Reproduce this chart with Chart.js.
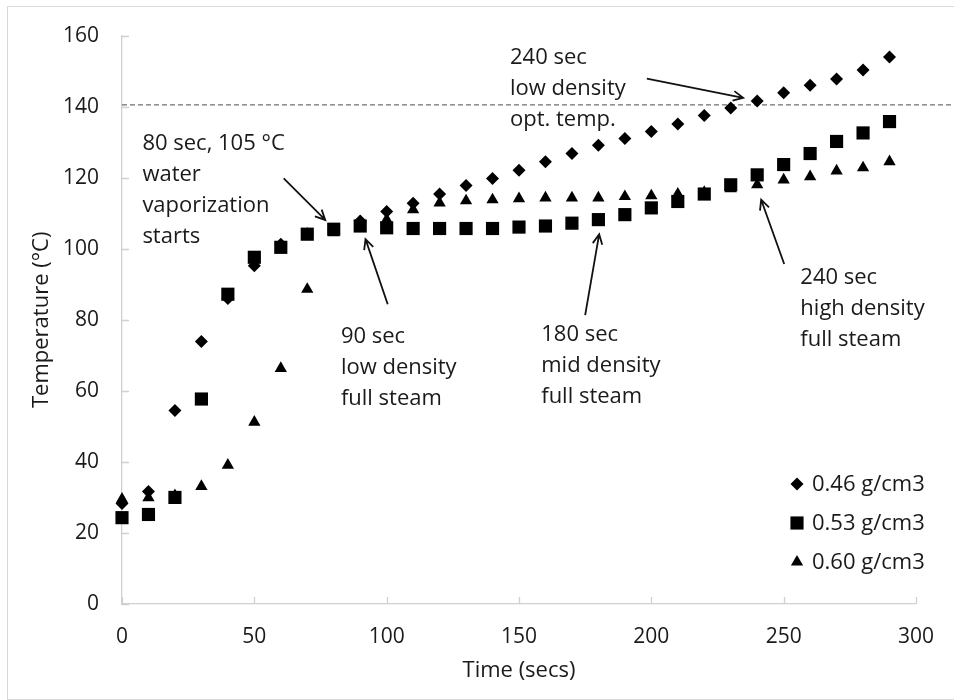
<!DOCTYPE html>
<html>
<head>
<meta charset="utf-8">
<script src="https://cdn.jsdelivr.net/npm/chart.js@4.4.1/dist/chart.umd.min.js"></script>
<style>
  html, body { margin: 0; padding: 0; background: #fff; }
  #frame { position: absolute; left: 7px; top: 6px; width: 960px; height: 692px; border: 1px solid #d9d9d9; }
  #grafico { position: absolute; left: 0; top: 0; }
</style>
</head>
<body>
<div id="frame"></div>
<canvas id="grafico" width="954" height="700"></canvas>
<script>
// time axis (secs)
const tempos = [0, 10, 20, 30, 40, 50, 60, 70, 80, 90, 100, 110, 120, 130, 140,
                150, 160, 170, 180, 190, 200, 210, 220, 230, 240, 250, 260, 270, 280, 290];

// temperature (°C) per density
const dens046 = [28.3, 31.7, 54.5, 73.9, 86.0, 95.2, 101.3, 104.2, 105.5, 107.8, 110.5, 112.8, 115.4, 117.8, 119.8,
                 122.1, 124.5, 126.8, 129.1, 131.0, 133.0, 135.1, 137.5, 139.6, 141.6, 143.9, 146.0, 147.8, 150.3, 154.0];
const dens053 = [24.3, 25.2, 30.0, 57.7, 87.2, 97.6, 100.4, 104.1, 105.5, 106.4, 105.9, 105.7, 105.7, 105.7, 105.7,
                 106.1, 106.4, 107.2, 108.2, 109.6, 111.5, 113.3, 115.4, 118.0, 120.8, 123.7, 126.8, 130.2, 132.6, 135.8];
const dens060 = [29.5, 29.9, 30.5, 33.1, 39.1, 51.2, 66.3, 88.6, 104.5, 107.5, 108.2, 111.0, 112.9, 113.5, 113.8,
                 114.1, 114.3, 114.3, 114.3, 114.7, 114.9, 115.4, 115.9, 116.9, 118.0, 119.4, 120.3, 121.9, 122.8, 124.5];

const rotulos = ['0.46 g/cm3', '0.53 g/cm3', '0.60 g/cm3'];
const optTemp = 140.5;

// annotations: text anchor and arrow in data units
const notas = [
  { linhas: ['80 sec, 105 °C', 'water', 'vaporization', 'starts'], x: 7.7, y: 127.7, de: [61.1, 119.8], para: [76.8, 108.1] },
  { linhas: ['90 sec', 'low density', 'full steam'], x: 82.7, y: 73.5, de: [100.4, 84.4], para: [92.0, 102.7] },
  { linhas: ['180 sec', 'mid density', 'full steam'], x: 158.4, y: 74.0, de: [175.0, 81.3], para: [180.3, 104.1] },
  { linhas: ['240 sec', 'high density', 'full steam'], x: 256.3, y: 90.2, de: [250.2, 95.7], para: [241.5, 113.8] },
  { linhas: ['240 sec', 'low density', 'opt. temp.'], x: 146.6, y: 151.9, de: [198.3, 147.9], para: [234.7, 142.5] }
];

const FONTE = '"Open Sans", "DejaVu Sans", sans-serif';
const COR_TEXTO = '#1a1a1a';
const estilos = [
  { pointStyle: 'rectRot', radius: 6.5 },
  { pointStyle: 'rect', radius: 9.3 },
  { pointStyle: 'triangle', radius: 7.1 }
];

function pontos(valores) {
  return tempos.map((t, i) => ({ x: t, y: valores[i] }));
}

const extras = {
  id: 'extras',
  beforeDatasetsDraw(chart) {
    const ctx = chart.ctx;
    const xs = chart.scales.x, ys = chart.scales.y;
    ctx.save();
    // tick marks inside the plot
    ctx.strokeStyle = '#d0d0d0';
    ctx.lineWidth = 1.3;
    ctx.beginPath();
    for (let v = 0; v <= 160; v += 20) {
      const py = Math.round(ys.getPixelForValue(v)) + 0.5;
      ctx.moveTo(xs.left, py); ctx.lineTo(xs.left + 7, py);
    }
    for (let v = 0; v <= 300; v += 50) {
      const px = Math.round(xs.getPixelForValue(v)) + 0.5;
      ctx.moveTo(px, ys.bottom); ctx.lineTo(px, ys.bottom - 7);
    }
    ctx.stroke();
    // optimum temperature line
    const yo = ys.getPixelForValue(optTemp);
    ctx.strokeStyle = '#6e6e6e';
    ctx.lineWidth = 1.3;
    ctx.setLineDash([5, 3]);
    ctx.beginPath();
    ctx.moveTo(xs.left, yo); ctx.lineTo(chart.width, yo);
    ctx.stroke();
    ctx.restore();
  },
  afterDatasetsDraw(chart) {
    const ctx = chart.ctx;
    const xs = chart.scales.x, ys = chart.scales.y;
    ctx.save();
    ctx.fillStyle = COR_TEXTO;
    ctx.strokeStyle = '#111';
    ctx.font = '22px ' + FONTE;
    ctx.textAlign = 'left';
    ctx.textBaseline = 'alphabetic';
    notas.forEach(n => {
      const px = xs.getPixelForValue(n.x), py = ys.getPixelForValue(n.y);
      n.linhas.forEach((l, i) => ctx.fillText(l, px, py + i * 31));
      const x1 = xs.getPixelForValue(n.de[0]), y1 = ys.getPixelForValue(n.de[1]);
      const x2 = xs.getPixelForValue(n.para[0]), y2 = ys.getPixelForValue(n.para[1]);
      ctx.lineWidth = 1.8;
      ctx.beginPath();
      ctx.moveTo(x1, y1); ctx.lineTo(x2, y2);
      const ang = Math.atan2(y2 - y1, x2 - x1);
      const a = 0.45, len = 11;
      ctx.moveTo(x2 - len * Math.cos(ang - a), y2 - len * Math.sin(ang - a));
      ctx.lineTo(x2, y2);
      ctx.lineTo(x2 - len * Math.cos(ang + a), y2 - len * Math.sin(ang + a));
      ctx.stroke();
    });
    // legend
    const lx = 797, ly = [484, 523, 562];
    rotulos.forEach((r, i) => {
      ctx.fillStyle = '#000';
      Chart.helpers.drawPoint(ctx, { pointStyle: estilos[i].pointStyle, radius: estilos[i].radius, rotation: 0, borderWidth: 0 }, lx, ly[i]);
      ctx.fillStyle = COR_TEXTO;
      ctx.font = '22px ' + FONTE;
      ctx.textBaseline = 'middle';
      ctx.fillText(r, 812, ly[i] + 1);
    });
    ctx.restore();
  }
};

const serie = (label, valores, i) => ({
  label: label,
  data: pontos(valores),
  pointStyle: estilos[i].pointStyle,
  pointRadius: estilos[i].radius,
  pointHoverRadius: estilos[i].radius,
  backgroundColor: '#000',
  borderColor: '#000',
  borderWidth: 0,
  showLine: false,
  clip: false
});

new Chart(document.getElementById('grafico').getContext('2d'), {
  type: 'scatter',
  data: {
    datasets: [
      serie(rotulos[0], dens046, 0),
      serie(rotulos[1], dens053, 1),
      serie(rotulos[2], dens060, 2)
    ]
  },
  options: {
    responsive: false,
    animation: false,
    events: [],
    layout: { padding: { left: 0, top: 29, right: 23, bottom: 0 } },
    plugins: { legend: { display: false }, tooltip: { enabled: false } },
    scales: {
      x: {
        type: 'linear', min: 0, max: 300,
        afterFit: s => { s.height = 96; },
        grid: { display: false, drawTicks: false },
        border: { display: true, color: '#d0d0d0', width: 1.3 },
        ticks: { stepSize: 50, padding: 20, color: COR_TEXTO, font: { family: FONTE, size: 21 } },
        title: { display: true, text: 'Time (secs)', color: COR_TEXTO, font: { family: FONTE, size: 22 }, padding: { top: 0, bottom: 16 } }
      },
      y: {
        min: 0, max: 160,
        afterFit: s => { s.width = 122; },
        grid: { display: false, drawTicks: false },
        border: { display: true, color: '#d0d0d0', width: 1.3 },
        ticks: { stepSize: 20, padding: 23, color: COR_TEXTO, font: { family: FONTE, size: 21 } },
        title: { display: true, text: 'Temperature (°C)', color: COR_TEXTO, font: { family: FONTE, size: 22 }, padding: { top: 29, bottom: 0 } }
      }
    }
  },
  plugins: [extras]
});
</script>
</body>
</html>
